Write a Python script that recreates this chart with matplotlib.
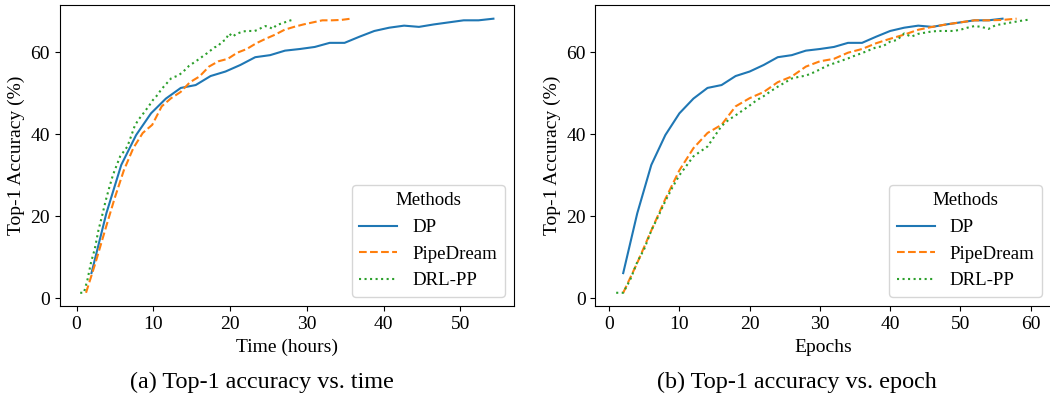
import matplotlib
matplotlib.use("Agg")
import matplotlib.pyplot as plt

CAMINHO_SAIDA = "out.png"

plt.rcParams["font.family"] = ["Liberation Serif", "DejaVu Serif"]
plt.rcParams["font.size"] = 14

# DP: avaliado a cada 2 épocas
dp_epocas = [2, 4, 6, 8, 10, 12, 14, 16, 18, 20, 22, 24, 26, 28, 30, 32, 34, 36,
             38, 40, 42, 44, 46, 48, 50, 52, 54, 56]
dp_horas = [1.94, 3.88, 5.82, 7.76, 9.70, 11.64, 13.58, 15.52, 17.46, 19.40,
            21.34, 23.28, 25.22, 27.16, 29.10, 31.04, 32.98, 34.92, 36.86, 38.80,
            40.74, 42.68, 44.62, 46.56, 48.50, 50.44, 52.38, 54.32]
dp_acc = [6.1, 20.7, 32.5, 39.8, 45.1, 48.7, 51.3, 52.0, 54.2, 55.3, 56.9, 58.8,
          59.3, 60.4, 60.8, 61.3, 62.3, 62.3, 63.8, 65.2, 66.0, 66.5, 66.2, 66.8,
          67.3, 67.8, 67.8, 68.2]

# PipeDream: avaliado a cada 2 épocas
pd_epocas = [2, 4, 6, 8, 10, 12, 14, 16, 18, 20, 22, 24, 26, 28, 30, 32, 34, 36,
             38, 40, 42, 44, 46, 48, 50, 52, 54, 56, 58]
pd_horas = [1.23, 2.46, 3.70, 4.93, 6.16, 7.39, 8.62, 9.86, 11.09, 12.32, 13.55,
            14.78, 16.02, 17.25, 18.48, 19.71, 20.94, 22.18, 23.41, 24.64, 25.87,
            27.10, 28.34, 29.57, 30.80, 32.03, 33.26, 34.50, 35.73]
pd_acc = [1.3, 8.6, 16.5, 24.2, 31.2, 36.6, 40.3, 42.3, 46.8, 48.8, 50.3, 52.7,
          54.1, 56.5, 57.8, 58.4, 59.9, 60.8, 62.2, 63.3, 64.3, 65.5, 66.2, 66.8,
          67.3, 67.8, 67.8, 67.9, 68.2]

# DRL-PP: avaliado a cada época
drl_epocas = list(range(1, 61))
drl_horas = [0.47, 0.95, 1.42, 1.89, 2.37, 2.84, 3.31, 3.78, 4.26, 4.73,
             5.20, 5.68, 6.15, 6.62, 7.10, 7.57, 8.04, 8.51, 8.99, 9.46,
             9.93, 10.41, 10.88, 11.35, 11.83, 12.30, 12.77, 13.24, 13.72, 14.19,
             14.66, 15.14, 15.61, 16.08, 16.56, 17.03, 17.50, 17.97, 18.45, 18.92,
             19.39, 19.87, 20.34, 20.81, 21.29, 21.76, 22.23, 22.70, 23.18, 23.65,
             24.12, 24.60, 25.07, 25.54, 26.02, 26.49, 26.96, 27.43, 27.91, 28.38]
drl_acc = [1.3, 1.3, 4.5, 8.8, 12.0, 16.5, 20.0, 23.7, 27.0, 30.0,
           32.3, 34.6, 35.8, 37.0, 39.5, 42.0, 43.5, 44.6, 45.8, 47.0,
           48.3, 49.3, 50.5, 51.6, 52.6, 53.6, 54.0, 54.3, 55.0, 55.8,
           56.7, 57.3, 57.9, 58.5, 59.2, 59.8, 60.5, 61.2, 61.5, 62.6,
           63.0, 64.6, 63.8, 64.5, 64.8, 65.1, 65.2, 65.2, 65.2, 65.5,
           66.0, 66.4, 66.2, 65.7, 66.6, 66.9, 67.2, 67.5, 67.8, 68.0]

METODOS = ["DP", "PipeDream", "DRL-PP"]
ESTILOS = {
    "DP": {"color": "#1f77b4", "linestyle": "-"},
    "PipeDream": {"color": "#ff7f0e", "linestyle": "--"},
    "DRL-PP": {"color": "#2ca02c", "linestyle": ":"},
}

fig = plt.figure(figsize=(10.5, 3.95), dpi=100)
ax_tempo = fig.add_axes([0.0567, 0.2241, 0.4329, 0.7633])
ax_epoca = fig.add_axes([0.5671, 0.2241, 0.4342, 0.7633])

series_tempo = [dp_horas, pd_horas, drl_horas]
series_epoca = [dp_epocas, pd_epocas, drl_epocas]
series_acc = [dp_acc, pd_acc, drl_acc]

for nome, x_t, x_e, acc in zip(METODOS, series_tempo, series_epoca, series_acc):
    ax_tempo.plot(x_t, acc, label=nome, linewidth=1.5, **ESTILOS[nome])
    ax_epoca.plot(x_e, acc, label=nome, linewidth=1.5, **ESTILOS[nome])

ax_tempo.set_xlabel("Time (hours)")
ax_epoca.set_xlabel("Epochs")
for ax in (ax_tempo, ax_epoca):
    ax.set_ylabel("Top-1 Accuracy (%)")
    ax.set_yticks([0, 20, 40, 60])
    ax.legend(title="Methods", loc="lower right", fontsize=13.6, title_fontsize=13.6)

ax_tempo.set_xticks([0, 10, 20, 30, 40, 50])
ax_epoca.set_xticks([0, 10, 20, 30, 40, 50, 60])

fig.text(0.249, 0.031, "(a) Top-1 accuracy vs. time", ha="center", va="center", fontsize=17.4)
fig.text(0.759, 0.031, "(b) Top-1 accuracy vs. epoch", ha="center", va="center", fontsize=17.4)

plt.savefig(CAMINHO_SAIDA, dpi=100)
